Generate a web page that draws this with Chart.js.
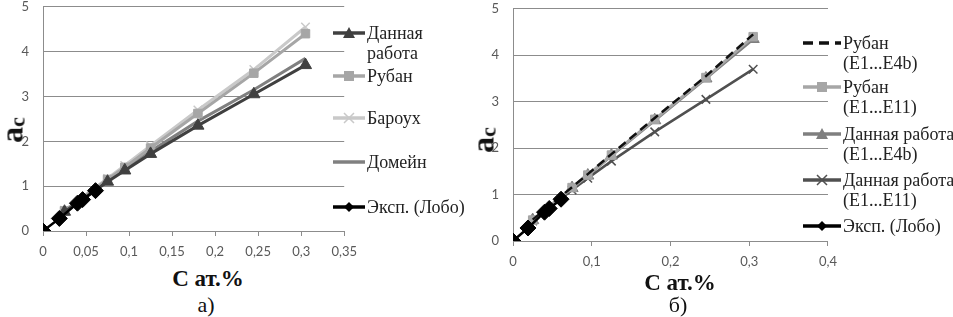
<!DOCTYPE html>
<html>
<head>
<meta charset="utf-8">
<script src="https://cdn.jsdelivr.net/npm/chart.js@4.4.1/dist/chart.umd.min.js"></script>
<style>
  body { margin: 0; background: #fff; }
  #wrap { position: relative; width: 953px; height: 317px; overflow: hidden; background: #fff; }
  .cv { position: absolute; }
  .lbl { position: absolute; font-family: "Liberation Serif", "DejaVu Serif", serif; color: #111; white-space: nowrap; }
  .xt { font-weight: bold; font-size: 23px; transform: translate(-50%, -50%); }
  .sub { font-size: 22px; transform: translate(-50%, -50%); }
  .yt { font-weight: bold; font-size: 32px; transform: translate(-50%, -50%) rotate(-90deg); }
  .yt sub { font-size: 22px; vertical-align: -2px; }
  .leg { position: absolute; font-family: "Liberation Serif", "DejaVu Serif", serif; font-size: 18px; line-height: 20px; color: #222; white-space: nowrap; }
  .leg svg { position: absolute; left: 0; top: 4px; }
</style>
</head>
<body>
<div id="wrap">
  <canvas id="chartA" class="cv" width="365" height="280" style="left:0;top:-15px"></canvas>
  <canvas id="chartB" class="cv" width="375" height="288" style="left:470px;top:-13px"></canvas>
</div>
<script>
// ---- data ----
const xCalc = [0.025, 0.075, 0.095, 0.125, 0.18, 0.245, 0.305];
const xLobo = [0, 0.019, 0.04, 0.046, 0.061];
const yLobo = [0, 0.28, 0.62, 0.7, 0.9];

// chart a)
const yDanna = [0.43, 1.1, 1.35, 1.72, 2.35, 3.05, 3.7];
const yRuban = [0.45, 1.15, 1.42, 1.85, 2.62, 3.52, 4.4];
const yBarouh = [0.46, 1.17, 1.46, 1.9, 2.7, 3.6, 4.55];
const yDomein = [0.44, 1.12, 1.38, 1.78, 2.45, 3.15, 3.85];

// chart б)
const yRubanE4b = [0.46, 1.16, 1.44, 1.87, 2.65, 3.55, 4.45];
const yRubanE11 = [0.45, 1.15, 1.42, 1.85, 2.62, 3.52, 4.4];
const yDannaE4b = [0.45, 1.14, 1.41, 1.84, 2.6, 3.5, 4.35];
const yDannaE11 = [0.43, 1.1, 1.35, 1.72, 2.35, 3.05, 3.7];

const namesA = [['Данная', 'работа'], ['Рубан'], ['Бароух'], ['Домейн'], ['Эксп. (Лобо)']];
const namesB = [['Рубан', '(E1...E4b)'], ['Рубан', '(E1...E11)'], ['Данная работа', '(E1...E4b)'], ['Данная работа', '(E1...E11)'], ['Эксп. (Лобо)']];
const xTitle = 'C ат.%';

function pts(xs, ys) { return xs.map((x, i) => ({ x: x, y: ys[i] })); }

function ds(label, xs, ys, color, style, radius, extra) {
    return Object.assign({
        label: label.join(' '),
        data: pts(xs, ys),
        borderColor: color,
        backgroundColor: color,
        borderWidth: 3,
        pointStyle: style,
        pointRadius: style ? radius : 0,
        pointBorderWidth: style === 'crossRot' ? 1.5 : 1,
        tension: 0,
        order: 1
    }, extra || {});
}

const gridGray = '#8c8c8c';

function makeOpts(xMax, xStep, pad) {
    return {
        responsive: false,
        animation: false,
        layout: { padding: pad },
        plugins: { legend: { display: false }, tooltip: { enabled: false } },
        scales: {
            x: {
                type: 'linear', min: 0, max: xMax,
                border: { color: gridGray, width: 1 },
                grid: { drawOnChartArea: false, drawTicks: true, tickLength: 5, color: gridGray },
                ticks: {
                    stepSize: xStep, padding: 8, color: '#595959',
                    font: { family: 'Lato', size: 13 },
                    callback: v => String(Math.round(v * 100) / 100).replace('.', ',')
                },
                afterFit: s => { s.height = 34; }
            },
            y: {
                min: 0, max: 5,
                border: { color: gridGray, width: 1 },
                grid: { color: gridGray, drawTicks: false },
                ticks: { stepSize: 1, padding: 14, color: '#595959', font: { family: 'Lato', size: 13 } },
                afterFit: s => { s.width = 43; }
            }
        }
    };
}

new Chart(document.getElementById('chartA'), {
    type: 'line',
    data: {
        datasets: [
            ds(namesA[4], xLobo, yLobo, '#000000', 'rectRot', 8, { order: 0, borderWidth: 2.5 }),
            ds(namesA[0], xCalc, yDanna, '#404040', 'triangle', 7),
            ds(namesA[1], xCalc, yRuban, '#a6a6a6', 'rect', 6),
            ds(namesA[2], xCalc, yBarouh, '#c9c9c9', 'crossRot', 6),
            ds(namesA[3], xCalc, yDomein, '#808080', false, 0)
        ]
    },
    options: makeOpts(0.35, 0.05, { top: 7, right: 12, left: 0, bottom: 0 })
});

new Chart(document.getElementById('chartB'), {
    type: 'line',
    data: {
        datasets: [
            ds(namesB[4], xLobo, yLobo, '#000000', 'rectRot', 8, { order: 0, borderWidth: 2.5 }),
            ds(namesB[0], xCalc, yRubanE4b, '#111111', false, 0, { borderDash: [9, 5], borderWidth: 2.5 }),
            ds(namesB[1], xCalc, yRubanE11, '#a6a6a6', 'rect', 6),
            ds(namesB[2], xCalc, yDannaE4b, '#7f7f7f', 'triangle', 7),
            ds(namesB[3], xCalc, yDannaE11, '#505050', 'crossRot', 6, { borderWidth: 2.5 })
        ]
    },
    options: makeOpts(0.4, 0.1, { top: 9, right: 15, left: 0, bottom: 0 })
});

// ---- text labels and legends (html) ----
const wrap = document.getElementById('wrap');
function addText(cls, html, x, y) {
    const d = document.createElement('div');
    d.className = 'lbl ' + cls;
    d.innerHTML = html;
    d.style.left = x + 'px';
    d.style.top = y + 'px';
    wrap.appendChild(d);
}
addText('xt', xTitle, 208, 279);
addText('sub', 'а)', 206, 305);
addText('yt', 'a<sub>c</sub>', 12, 130);
addText('xt', xTitle, 680, 283);
addText('sub', 'б)', 678, 305);
addText('yt', 'a<sub>c</sub>', 483, 140);

function marker(style, color, c) {
    if (style === 'triangle') return `<polygon points="${c},0 ${c + 6},11 ${c - 6},11" fill="${color}"/>`;
    if (style === 'rect') return `<rect x="${c - 5}" y="1" width="10" height="10" fill="${color}"/>`;
    if (style === 'crossRot') return `<path d="M${c - 5} 1 L${c + 5} 11 M${c + 5} 1 L${c - 5} 11" stroke="${color}" stroke-width="1.5"/>`;
    if (style === 'rectRot') return `<polygon points="${c},1 ${c + 5},6 ${c},11 ${c - 5},6" fill="${color}"/>`;
    return '';
}
function addLegend(items, left, iconW, tops) {
    items.forEach((it, i) => {
        const d = document.createElement('div');
        d.className = 'leg';
        d.style.left = left + 'px';
        d.style.top = tops[i] + 'px';
        const dash = it.dash ? 'stroke-dasharray="10 6"' : '';
        d.innerHTML = `<svg width="${iconW}" height="12"><line x1="0" y1="6" x2="${iconW}" y2="6" stroke="${it.color}" stroke-width="3.5" ${dash}/>${marker(it.style, it.color, iconW / 2)}</svg>` +
            it.name.map(t => `<div style="margin-left:${iconW + 2}px">${t}</div>`).join('');
        wrap.appendChild(d);
    });
}
addLegend([
    { name: namesA[0], color: '#404040', style: 'triangle' },
    { name: namesA[1], color: '#a6a6a6', style: 'rect' },
    { name: namesA[2], color: '#c9c9c9', style: 'crossRot' },
    { name: namesA[3], color: '#808080', style: null },
    { name: namesA[4], color: '#000000', style: 'rectRot' }
], 333, 32, [23, 66, 108, 152, 197]);
addLegend([
    { name: namesB[0], color: '#111111', style: null, dash: true },
    { name: namesB[1], color: '#a6a6a6', style: 'rect' },
    { name: namesB[2], color: '#7f7f7f', style: 'triangle' },
    { name: namesB[3], color: '#505050', style: 'crossRot' },
    { name: namesB[4], color: '#000000', style: 'rectRot' }
], 803, 38, [33, 77, 124, 170, 216]);
</script>
</body>
</html>
